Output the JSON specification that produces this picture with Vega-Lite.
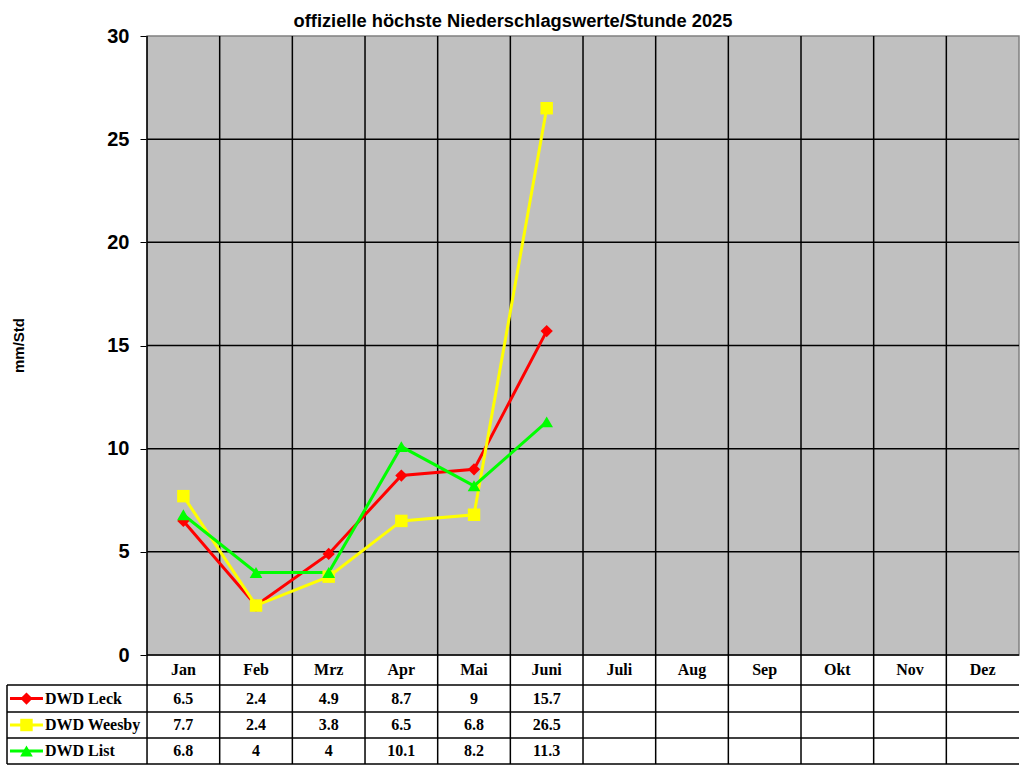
{
  "$schema": "https://vega.github.io/schema/vega-lite/v6.json",
  "width": 1012,
  "height": 728,
  "autosize": {"type": "none"},
  "padding": {"left": 7, "top": 36, "right": 5, "bottom": 4},
  "background": "white",
  "title": {
    "text": "offizielle höchste Niederschlagswerte/Stunde 2025",
    "font": "Liberation Sans",
    "fontSize": 18.3,
    "fontWeight": "bold",
    "color": "black",
    "anchor": "middle",
    "frame": "group",
    "baseline": "alphabetic",
    "offset": 9,
    "dy": 28
  },
  "config": {
    "view": {"stroke": null},
    "legend": {"disable": true}
  },
  "datasets": {
    "werte": [
      {"Monat": "Jan", "Nr": 1, "Station": "DWD Leck", "Wert": 6.5},
      {"Monat": "Feb", "Nr": 2, "Station": "DWD Leck", "Wert": 2.4},
      {"Monat": "Mrz", "Nr": 3, "Station": "DWD Leck", "Wert": 4.9},
      {"Monat": "Apr", "Nr": 4, "Station": "DWD Leck", "Wert": 8.7},
      {"Monat": "Mai", "Nr": 5, "Station": "DWD Leck", "Wert": 9},
      {"Monat": "Juni", "Nr": 6, "Station": "DWD Leck", "Wert": 15.7},
      {"Monat": "Jan", "Nr": 1, "Station": "DWD Weesby", "Wert": 7.7},
      {"Monat": "Feb", "Nr": 2, "Station": "DWD Weesby", "Wert": 2.4},
      {"Monat": "Mrz", "Nr": 3, "Station": "DWD Weesby", "Wert": 3.8},
      {"Monat": "Apr", "Nr": 4, "Station": "DWD Weesby", "Wert": 6.5},
      {"Monat": "Mai", "Nr": 5, "Station": "DWD Weesby", "Wert": 6.8},
      {"Monat": "Juni", "Nr": 6, "Station": "DWD Weesby", "Wert": 26.5},
      {"Monat": "Jan", "Nr": 1, "Station": "DWD List", "Wert": 6.8},
      {"Monat": "Feb", "Nr": 2, "Station": "DWD List", "Wert": 4},
      {"Monat": "Mrz", "Nr": 3, "Station": "DWD List", "Wert": 4},
      {"Monat": "Apr", "Nr": 4, "Station": "DWD List", "Wert": 10.1},
      {"Monat": "Mai", "Nr": 5, "Station": "DWD List", "Wert": 8.2},
      {"Monat": "Juni", "Nr": 6, "Station": "DWD List", "Wert": 11.3}
    ],
    "monate": [
      {"Monat": "Jan", "Nr": 1}, {"Monat": "Feb", "Nr": 2}, {"Monat": "Mrz", "Nr": 3},
      {"Monat": "Apr", "Nr": 4}, {"Monat": "Mai", "Nr": 5}, {"Monat": "Juni", "Nr": 6},
      {"Monat": "Juli", "Nr": 7}, {"Monat": "Aug", "Nr": 8}, {"Monat": "Sep", "Nr": 9},
      {"Monat": "Okt", "Nr": 10}, {"Monat": "Nov", "Nr": 11}, {"Monat": "Dez", "Nr": 12}
    ],
    "hlinien": [{"y": 0}, {"y": 5}, {"y": 10}, {"y": 15}, {"y": 20}, {"y": 25}],
    "vlinien": [
      {"x": 0.5}, {"x": 1.5}, {"x": 2.5}, {"x": 3.5}, {"x": 4.5}, {"x": 5.5},
      {"x": 6.5}, {"x": 7.5}, {"x": 8.5}, {"x": 9.5}, {"x": 10.5}, {"x": 11.5}
    ],
    "tlinien": [{"y": -1.452}, {"y": -2.76}, {"y": -4.02}, {"y": -5.28}]
  },
  "layer": [
    {
      "data": {"values": [{}]},
      "mark": {"type": "rect", "fill": "#C0C0C0", "stroke": "#808080", "strokeWidth": 1.5},
      "encoding": {
        "x": {"datum": 0.5, "axis": null},
        "x2": {"datum": 12.5},
        "y": {"datum": 0},
        "y2": {"datum": 30}
      }
    },
    {
      "data": {"name": "hlinien"},
      "mark": {"type": "rule", "color": "black", "strokeWidth": 1.5},
      "encoding": {
        "y": {"field": "y", "type": "quantitative"},
        "x": {"datum": 0.5, "axis": null},
        "x2": {"datum": 12.5}
      }
    },
    {
      "data": {"name": "vlinien"},
      "mark": {"type": "rule", "color": "black", "strokeWidth": 1.5},
      "encoding": {
        "x": {"field": "x", "type": "quantitative", "axis": null},
        "y": {"datum": -5.28},
        "y2": {"datum": 30}
      }
    },
    {
      "data": {"name": "tlinien"},
      "mark": {"type": "rule", "color": "black", "strokeWidth": 1.5},
      "encoding": {
        "y": {"field": "y", "type": "quantitative"},
        "x": {"datum": -1.427, "axis": null},
        "x2": {"datum": 12.5}
      }
    },
    {
      "data": {"values": [{}]},
      "mark": {"type": "rule", "color": "black", "strokeWidth": 1.5},
      "encoding": {
        "x": {"datum": -1.427, "axis": null},
        "y": {"datum": -1.452},
        "y2": {"datum": -5.28}
      }
    },
    {
      "data": {"name": "monate"},
      "mark": {"type": "text", "font": "Liberation Serif", "fontSize": 16, "fontWeight": "bold", "color": "black", "baseline": "middle"},
      "encoding": {
        "x": {"field": "Nr", "type": "quantitative", "axis": null},
        "y": {"datum": -0.725},
        "text": {"field": "Monat", "type": "nominal"}
      }
    },
    {
      "data": {"name": "werte"},
      "mark": {"type": "line", "strokeWidth": 3},
      "encoding": {
        "x": {"field": "Nr", "type": "quantitative", "scale": {"domain": [-1.427, 12.5], "nice": false, "zero": false}, "axis": null},
        "y": {
          "field": "Wert",
          "type": "quantitative",
          "scale": {"domain": [-5.28, 30], "nice": false, "zero": false},
          "axis": {
            "values": [0, 5, 10, 15, 20, 25, 30],
            "offset": -140,
            "domain": false,
            "grid": false,
            "tickSize": 7,
            "tickColor": "black",
            "tickWidth": 1,
            "labelFont": "Liberation Sans",
            "labelFontSize": 20,
            "labelFontWeight": "bold",
            "labelColor": "black",
            "labelPadding": 11,
            "title": "mm/Std",
            "titleFont": "Liberation Sans",
            "titleFontSize": 15,
            "titleFontWeight": "bold",
            "titleColor": "black",
            "titleX": -129,
            "titleY": 309,
            "titleAngle": 270,
            "titleAlign": "center",
            "titleBaseline": "middle"
          }
        },
        "color": {
          "field": "Station",
          "type": "nominal",
          "scale": {"domain": ["DWD Leck", "DWD Weesby", "DWD List"], "range": ["#FF0000", "#FFFF00", "#00FF00"]}
        }
      }
    },
    {
      "data": {"name": "werte"},
      "mark": {"type": "point", "filled": true, "opacity": 1},
      "encoding": {
        "x": {"field": "Nr", "type": "quantitative", "axis": null},
        "y": {"field": "Wert", "type": "quantitative"},
        "color": {"field": "Station", "type": "nominal"},
        "shape": {
          "field": "Station",
          "type": "nominal",
          "scale": {"domain": ["DWD Leck", "DWD Weesby", "DWD List"], "range": ["diamond", "square", "triangle-up"]}
        },
        "size": {
          "field": "Station",
          "type": "nominal",
          "scale": {"domain": ["DWD Leck", "DWD Weesby", "DWD List"], "range": [150, 160, 190]}
        }
      }
    },
    {
      "data": {"name": "werte"},
      "transform": [{"filter": "datum.Station == 'DWD Leck'"}],
      "encoding": {"y": {"datum": -2.106}},
      "layer": [
        {
          "mark": {"type": "text", "font": "Liberation Serif", "fontSize": 16, "fontWeight": "bold", "color": "black", "baseline": "middle"},
          "encoding": {
            "x": {"field": "Nr", "type": "quantitative", "axis": null},
            "text": {"field": "Wert", "type": "quantitative"}
          }
        },
        {
          "transform": [{"filter": "datum.Nr == 1"}],
          "layer": [
            {
              "mark": {"type": "rule", "strokeWidth": 3},
              "encoding": {
                "x": {"datum": -1.386, "axis": null},
                "x2": {"datum": -0.932},
                "color": {"field": "Station", "type": "nominal"}
              }
            },
            {
              "mark": {"type": "point", "filled": true, "opacity": 1},
              "encoding": {
                "x": {"datum": -1.159, "axis": null},
                "color": {"field": "Station", "type": "nominal"},
                "shape": {"field": "Station", "type": "nominal"},
                "size": {"field": "Station", "type": "nominal"}
              }
            },
            {
              "mark": {"type": "text", "align": "left", "baseline": "middle", "font": "Liberation Serif", "fontSize": 16, "fontWeight": "bold", "color": "black"},
              "encoding": {
                "x": {"datum": -0.904, "axis": null},
                "text": {"field": "Station", "type": "nominal"}
              }
            }
          ]
        }
      ]
    },
    {
      "data": {"name": "werte"},
      "transform": [{"filter": "datum.Station == 'DWD Weesby'"}],
      "encoding": {"y": {"datum": -3.39}},
      "layer": [
        {
          "mark": {"type": "text", "font": "Liberation Serif", "fontSize": 16, "fontWeight": "bold", "color": "black", "baseline": "middle"},
          "encoding": {
            "x": {"field": "Nr", "type": "quantitative", "axis": null},
            "text": {"field": "Wert", "type": "quantitative"}
          }
        },
        {
          "transform": [{"filter": "datum.Nr == 1"}],
          "layer": [
            {
              "mark": {"type": "rule", "strokeWidth": 3},
              "encoding": {
                "x": {"datum": -1.386, "axis": null},
                "x2": {"datum": -0.932},
                "color": {"field": "Station", "type": "nominal"}
              }
            },
            {
              "mark": {"type": "point", "filled": true, "opacity": 1},
              "encoding": {
                "x": {"datum": -1.159, "axis": null},
                "color": {"field": "Station", "type": "nominal"},
                "shape": {"field": "Station", "type": "nominal"},
                "size": {"field": "Station", "type": "nominal"}
              }
            },
            {
              "mark": {"type": "text", "align": "left", "baseline": "middle", "font": "Liberation Serif", "fontSize": 16, "fontWeight": "bold", "color": "black"},
              "encoding": {
                "x": {"datum": -0.904, "axis": null},
                "text": {"field": "Station", "type": "nominal"}
              }
            }
          ]
        }
      ]
    },
    {
      "data": {"name": "werte"},
      "transform": [{"filter": "datum.Station == 'DWD List'"}],
      "encoding": {"y": {"datum": -4.65}},
      "layer": [
        {
          "mark": {"type": "text", "font": "Liberation Serif", "fontSize": 16, "fontWeight": "bold", "color": "black", "baseline": "middle"},
          "encoding": {
            "x": {"field": "Nr", "type": "quantitative", "axis": null},
            "text": {"field": "Wert", "type": "quantitative"}
          }
        },
        {
          "transform": [{"filter": "datum.Nr == 1"}],
          "layer": [
            {
              "mark": {"type": "rule", "strokeWidth": 3},
              "encoding": {
                "x": {"datum": -1.386, "axis": null},
                "x2": {"datum": -0.932},
                "color": {"field": "Station", "type": "nominal"}
              }
            },
            {
              "mark": {"type": "point", "filled": true, "opacity": 1},
              "encoding": {
                "x": {"datum": -1.159, "axis": null},
                "color": {"field": "Station", "type": "nominal"},
                "shape": {"field": "Station", "type": "nominal"},
                "size": {"field": "Station", "type": "nominal"}
              }
            },
            {
              "mark": {"type": "text", "align": "left", "baseline": "middle", "font": "Liberation Serif", "fontSize": 16, "fontWeight": "bold", "color": "black"},
              "encoding": {
                "x": {"datum": -0.904, "axis": null},
                "text": {"field": "Station", "type": "nominal"}
              }
            }
          ]
        }
      ]
    }
  ]
}
